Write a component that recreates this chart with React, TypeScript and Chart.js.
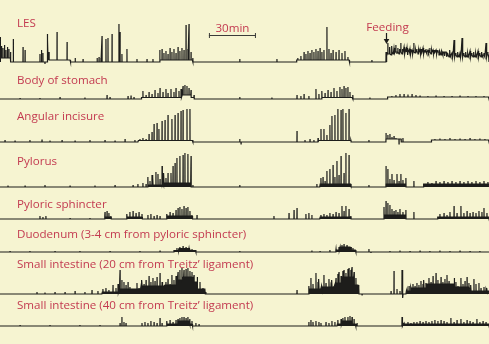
import { useEffect, useRef } from "react";
import { Chart, registerables } from "chart.js";

Chart.register(...registerables);

// ---- data (time in minutes, amplitude in arbitrary units) ----
const TIME_MAX = 312;
const scaleBarMinutes = [133.3, 163.3];
const feedingMinute = 246.3;

const channelNames = [
  "LES",
  "Body of stomach",
  "Angular incisure",
  "Pylorus",
  "Pyloric sphincter",
  "Duodenum (3-4 cm from pyloric sphincter)",
  "Small intestine (20 cm from Treitz\u2019 ligament)",
  "Small intestine (40 cm from Treitz\u2019 ligament)",
];

// spikes: [minute, amplitude]
const lesSpikes = [
  [0.3, 25], [1.0, 16], [1.9, 14], [2.9, 17], [3.8, 12], [4.8, 15], [5.7, 13], [6.7, 10], [8.5, 23],
  [14.7, 15], [16, 12], [25.5, 8], [26.5, 12], [27.4, 9], [28.7, -2], [30, 28], [30.6, 22], [31.3, 10],
  [36.4, 30], [42.8, 20], [48, 4], [53, 3], [62, 4], [63.2, 5], [64.4, 4], [65.1, 26], [67.6, 23],
  [68.9, 24], [71.5, 28], [75.9, 38], [76.6, 30], [77.8, 8], [81, 13], [87.4, 3], [93.8, 3], [97.6, 3],
  [102, 12], [103.4, 13], [104.6, 9], [105.9, 11], [107.2, 8], [108.5, 14], [109.7, 10], [111, 13],
  [112.3, 9], [113.6, 15], [114.8, 11], [116.1, 14], [117.4, 12], [118.7, 37], [119.9, 13], [120.6, 38],
  [121.9, 10], [123.1, 4], [153, 3], [176.7, 3], [190, 4], [192, 6], [194, 10], [195.2, 8], [196.5, 11],
  [197.8, 9], [199, 12], [200.3, 10], [201.6, 13], [202.9, 11], [204.2, 14], [205.4, 10], [206.7, 12],
  [208.6, 35], [209.9, 13], [211.2, 9], [212.5, 12], [214.4, 10], [216.3, 12], [218.2, 9], [220.1, 11],
  [222, 5], [237.3, 2],
  [246.3, 10], [246.9, 6], [247.5, 19], [248.2, 8], [248.8, 15], [249.5, 7], [250.1, 16], [250.8, 8],
  [251.4, 14], [252, 9], [252.6, 17], [253.3, 8], [253.9, 14], [254.6, 8], [255.2, 13], [255.8, 19],
  [256.5, 8], [257.1, 13], [257.8, 15], [258.4, 8], [259.1, 13], [259.7, 14], [260.3, 7], [261, 12],
  [261.6, 13], [262.2, 8], [262.9, 12], [263.5, 8], [264.1, 19], [264.8, 9], [265.4, 12], [266, 13],
  [266.7, 8], [267.3, 12], [268, 13], [268.6, 8], [269.2, 13], [269.9, 14], [270.5, 8], [271.1, 12],
  [271.8, 13], [272.4, 8], [273.1, 12], [273.7, 9], [274.3, 14], [275, 8], [275.6, 12], [276.3, 12],
  [276.9, 8], [277.5, 12], [278.2, 12], [278.8, 8], [279.4, 12], [280.1, 7], [280.7, 11], [281.4, 7],
  [282, 11], [282.6, 7], [283.3, 10], [283.9, 6], [284.5, 10], [285.2, 5], [285.8, 9], [286.5, 5],
  [287.1, 12], [287.7, 5], [288.4, 9], [289, 5], [289.7, 22], [290.3, 5], [290.9, 9], [291.6, 5],
  [292.2, 10], [292.9, 5], [293.5, 9], [294.1, 5], [294.8, 24], [295.4, 5], [296, 9], [296.7, 5],
  [297.3, 10], [298, 5], [298.6, 9], [299.2, 5], [299.9, 11], [300.5, 5], [301.1, 9], [301.8, 5],
  [302.4, 10], [303.1, 5], [303.7, 9], [304.3, 5], [305, 11], [305.6, 5], [306.2, 9], [306.9, 5],
  [307.5, 10], [308.1, 5], [308.8, 9], [309.4, 5], [310.1, 19], [310.7, 5], [311.3, 10],
];
// tone: [start minute, end minute, level]
const lesTone = [[0, 7, 4], [30, 45, 2], [102, 123, 2], [189, 223, 2], [246.5, 250, 8], [250, 285, 10], [285, 312, 7]];

const bodySpikes = [
  [12.8, 1], [25.5, 1], [38.3, 2], [54.2, 1.5], [68.3, 4], [70.2, 2], [81.7, 3], [83.6, 3.5], [85.5, 2],
  [91.2, 8], [93.2, 4], [95.1, 7], [97, 5], [98.9, 9], [100.8, 6], [102.1, 11], [104, 7], [105.9, 10],
  [107.2, 6], [109.1, 10], [111, 7], [112.3, 11], [114.2, 8], [115.5, 10], [116.8, 13], [118, 14],
  [119.3, 13], [120.6, 11], [121.9, 9], [123.8, 4], [153, 2], [173.5, 1.5], [189.5, 4], [192, 3],
  [194, 5], [197.1, 3], [201.6, 10], [203.5, 5], [205.4, 8], [207.4, 6], [209.3, 9], [211.2, 7],
  [213.1, 11], [215, 8], [216.9, 12], [218.2, 10], [219.5, 13], [220.7, 11], [222, 12], [223.3, 7],
  [225.2, 4], [236, 1.5], [250, 3], [252.6, 4], [255.2, 5], [257.8, 5], [260.3, 4.5], [262.9, 5],
  [265.4, 4], [268, 3.5], [273, 3], [278.2, 3.5], [283.3, 3], [288.4, 3], [293.5, 3.5], [298.6, 3],
  [303.7, 3], [308.8, 3],
];
const bodyTone = [[90, 124, 1.5], [116, 122, 4], [205, 225, 1.5], [247, 312, 2]];

const angularSpikes = [
  [3.2, 2], [9.6, 1.5], [19.1, 2], [26.8, 2.5], [31.9, 1.5], [39.6, 2], [47.9, 1.5], [57.4, 2], [67, 2],
  [73.4, 1.5], [79.8, 3], [86.1, 2], [89.3, 3], [91.2, 4], [93.2, 3], [95.1, 8], [97, 10], [98.3, 18],
  [100.2, 19], [101.4, 13], [103.4, 21], [105.3, 22], [107.2, 27], [109.7, 23], [111.7, 27], [113.6, 29],
  [115.5, 31], [116.8, 32], [119.3, 33], [121.2, 33], [123.1, 2], [153, 3], [153.8, -2], [189.5, 11],
  [194.6, 2], [197.8, 3], [200.3, 2], [202.9, 4], [204.8, 13], [206.7, 13], [208.6, 7], [210.5, 17],
  [211.8, 26], [213.7, 27], [215.6, 33], [217.6, 32], [218.8, 33], [220.7, 29], [222.7, 33], [223.9, 2],
  [235.4, 2], [246.3, 9], [247.5, 7], [248.8, 8], [250.1, 5], [251.4, 6], [252.6, 4], [254.6, -2],
  [255.8, 3], [257.1, 4], [277.5, 3], [280.7, 3.5], [283.9, 3], [287.1, 4], [290.3, 3], [293.5, 3.5],
  [296.7, 3], [299.9, 4], [303, 3], [306.2, 3.5], [309.4, 3],
];
const angularTone = [[88, 123, 1.5], [203, 224, 1.5], [246, 256, 3], [275, 312, 2]];

const pylorusSpikes = [
  [5.1, 1.5], [16, 1.5], [28.7, 2], [44.7, 1.5], [60.6, 1.5], [73.4, 2], [84.9, 2], [88, 3], [91.2, 4],
  [93.2, 3], [94.4, 10], [95.7, 6], [97, 12], [97.6, 10], [99.5, 15], [100.8, 13], [102.1, 8], [103.4, 21],
  [104.6, 14], [105.9, 9], [107.2, 14], [109.1, 14], [110.4, 21], [111.7, 24], [112.9, 29], [114.8, 31],
  [116.8, 32], [118, 34], [119.9, 33], [121.9, 31], [123.1, 2], [153, 2], [202.2, 3], [204.8, 9],
  [206.1, 10], [207.4, 6], [208.6, 16], [210.5, 18], [212.5, 22], [213.7, 10], [215, 26], [216.3, 12],
  [217.6, 31], [219.5, 14], [220.7, 34], [222.7, 32], [223.9, 2], [235.4, 2], [246.3, 21], [247.5, 18],
  [248.8, 8], [250.1, 13], [251.4, 7], [253.3, 13], [254.6, 6], [255.8, 13], [257.1, 7], [259, 9],
  [264.1, 6], [273, 5], [275.6, 4], [278.2, 6], [280.7, 5], [283.3, 6], [285.8, 5], [288.4, 6],
  [290.9, 5], [293.5, 6], [296, 5], [298.6, 6], [301.1, 5], [303.7, 6], [306.2, 5], [308.8, 6], [311.3, 5],
];
const pylorusTone = [[94, 104, 2], [104, 122, 4], [204, 224, 3], [246, 259, 3], [270, 312, 3]];

const pyloricSpikes = [
  [25.5, 3], [27.4, 2], [29.3, 3], [44.7, 1], [57.4, 1], [67, 7], [68.3, 8], [69.5, 6], [70.8, 3],
  [81, 5], [82.9, 7], [84.9, 8], [86.8, 6], [88.7, 7], [90.6, 5], [94.4, 4], [96.3, 5], [98.3, 3],
  [100.2, 4], [102.1, 3], [106.5, 5], [108.5, 7], [110.4, 6], [112.3, 9], [113.6, 11], [114.8, 12],
  [116.1, 10], [117.4, 13], [118.7, 11], [119.9, 12], [121.2, 8], [122.5, 4], [125.7, 4], [174.8, 3],
  [184.4, 6], [187.6, 9], [189.5, 11], [195.2, 5], [197.1, 6], [199, 4], [204.8, 4], [206.7, 5],
  [208.6, 4], [210.5, 6], [212.5, 5], [214.4, 7], [216.3, 6], [218.2, 13], [219.5, 8], [220.7, 13],
  [222.7, 10], [223.9, 3], [245, 12], [246.3, 18], [247.5, 16], [248.8, 14], [250.1, 10], [251.4, 8],
  [252.6, 9], [253.9, 7], [255.2, 10], [257.1, 7], [259, 9], [264.1, 7], [280.7, 5], [283.3, 6],
  [285.2, 4], [287.1, 7], [289.7, 13], [291.6, 6], [294.1, 13], [296, 6], [298, 8], [299.9, 6],
  [301.8, 7], [303.7, 6], [305.6, 8], [307.5, 7], [308.8, 11], [310.7, 6],
];
const pyloricTone = [[66.5, 71, 2], [80.5, 91, 2], [106, 123, 3], [204, 224, 2], [245, 259, 4], [279, 312, 2]];

const duodenumSpikes = [
  [6.4, 1], [19.1, 1], [35.1, 1], [51, 1], [70.2, 1], [89.3, 1], [102.1, 1.5], [111, 2], [112.9, 4],
  [114.8, 5], [116.8, 6], [118.7, 5], [120.6, 4], [122.5, 3], [125, 2], [153, 1], [199, 1.5], [204.2, 1],
  [210.5, 2], [214.4, 3], [216.3, 5], [218.2, 7], [219.5, 8], [221.4, 7], [223.3, 5], [225.2, 4],
  [227.1, 2], [235.4, 3], [236.7, -1], [248.8, 1], [255.2, 1.5], [261.6, 1], [268, 1.5], [274.3, 1],
  [280.7, 1.5], [287.1, 1], [293.5, 1.5], [299.9, 1], [306.2, 1],
];
const duodenumTone = [[111, 114, 1.5], [114, 121, 3.5], [121, 125, 1.5], [214, 217, 2], [217, 224, 5], [224, 227, 2]];

const si20Spikes = [
  [23.6, 2], [28.7, 1.5], [35.1, 2], [41.5, 2], [47.9, 3], [54.2, 2], [58.7, 4], [62.5, 3], [65.7, 5],
  [67.6, 6], [69.5, 4], [72.1, 9], [74, 6], [75.3, 10], [76.6, 24], [77.8, 14], [79.1, 12], [80.4, 9],
  [81.7, 12], [82.9, 7], [84.9, 5], [87.4, 11], [88.7, 6], [90.6, 14], [91.9, 10], [93.2, 14], [95.1, 18],
  [96.3, 12], [97.6, 16], [98.9, 13], [100.2, 17], [102.1, 21], [103.4, 12], [104, 8], [105.9, 12],
  [107.2, 15], [108.5, 10], [109.7, 19], [111, 14], [112.3, 18], [113.6, 22], [114.8, 24], [116.1, 26],
  [117.4, 24], [118.7, 25], [119.9, 26], [121.2, 23], [122.5, 22], [123.8, 19], [125.7, 17], [127.6, 12],
  [129.5, 6], [131.4, 2], [189.5, 4], [197.1, 8], [198.4, 16], [199.7, 10], [201.6, 21], [202.9, 12],
  [203.5, 15], [205.4, 8], [206.7, 19], [208, 11], [209.9, 15], [211.2, 9], [211.8, 14], [213.1, 8],
  [214.4, 16], [215.6, 20], [216.3, 22], [217.6, 18], [218.8, 23], [219.5, 24], [220.7, 21], [222, 25],
  [222.7, 26], [223.9, 24], [224.6, 27], [225.9, 22], [227.1, 16], [228.4, 8], [229, 6], [231, -1],
  [249.5, 3], [251.4, 23], [253.3, 5], [255.2, 3], [256.5, 24], [257.1, -4], [259.7, 5], [261, 8],
  [262.2, 7], [263.5, 10], [264.8, 8], [266, 11], [267.3, 9], [268.6, 13], [269.9, 10], [270.5, 14],
  [271.8, 11], [273.7, 16], [275, 12], [276.3, 18], [278.2, 21], [279.4, 14], [281.4, 17], [282.6, 12],
  [283.9, 15], [285.2, 19], [286.5, 13], [287.7, 10], [289.7, 16], [290.9, 12], [292.2, 8], [294.1, 16],
  [295.4, 10], [296.7, 13], [298, 17], [299.2, 11], [300.5, 9], [302.4, 15], [303.7, 10], [305.6, 11],
  [306.9, 6], [308.8, 7], [310.1, 5], [310.7, 6],
];
const si20Tone = [
  [65, 76, 2], [76, 90, 5], [90, 105, 8], [105, 113, 9], [113, 117, 14], [117, 123, 17], [123, 126, 12],
  [126, 131, 5], [197, 205, 5], [205, 214, 7], [214, 218, 11], [218, 226, 17], [226, 229, 9],
  [259, 262, 3], [262, 272, 6], [272, 290, 10], [290, 300, 7], [300, 312, 3],
];

const si40Spikes = [
  [12.8, 1], [31.9, 1], [51, 1], [63.8, 1], [76.6, 3], [77.8, 9], [79.1, 4], [80.4, 3], [90.6, 3],
  [92.5, 4], [94.4, 3], [96.3, 5], [98.3, 4], [100.2, 3], [102.1, 8], [103.4, 3], [106.5, 5], [108.5, 6],
  [110.4, 4], [112.3, 6], [113.6, 7], [114.8, 8], [116.1, 9], [117.4, 9], [118.7, 8], [119.9, 9],
  [121.2, 7], [122.5, 5], [125, 3], [127, 2], [197.1, 4], [198.4, 6], [199.7, 4], [201.6, 5], [203.5, 4],
  [204.8, 3], [208, 4], [209.9, 3], [211.8, 5], [213.7, 4], [215.6, 6], [217.6, 7], [218.8, 8], [220.1, 9],
  [222, 9], [223.3, 10], [224.6, 9], [225.9, 7], [227.8, 3], [256.5, 9], [257.8, 3], [260.3, 4],
  [262.2, 3], [264.1, 4], [266, 4], [268, 5], [269.9, 4], [271.8, 5], [273.7, 4], [275.6, 5], [277.5, 6],
  [279.4, 5], [281.4, 6], [283.3, 5], [285.2, 4], [287.7, 8], [289.7, 4], [291.6, 6], [294.1, 7],
  [296, 4], [298, 6], [299.9, 5], [301.8, 4], [304.3, 7], [306.2, 4], [308.2, 5], [310.1, 4],
];
const si40Tone = [[106, 123, 2], [113, 121, 5], [215, 227, 2], [218, 225, 5], [257, 312, 2]];

const channelSpikes = [lesSpikes, bodySpikes, angularSpikes, pylorusSpikes, pyloricSpikes, duodenumSpikes, si20Spikes, si40Spikes];
const channelTone = [lesTone, bodyTone, angularTone, pylorusTone, pyloricTone, duodenumTone, si20Tone, si40Tone];

// ---- layout / style ----
const W = 489;
const H = 344;
const BG = "#f6f4d1";
const TRACE = "#1d1d1b";
const LABEL = "#c33a50";
const FONT = '11.6px "Open Sans", sans-serif';
const baselinePx = [62, 99, 142, 187, 219, 252, 294, 326];
const labelBaselinePx = [26.7, 84, 120, 165, 208.3, 238.3, 268.3, 309];
const channelFill = [false, false, false, true, true, true, true, true];
const SPIKE_HALF = 0.06;

function buildTrace(spikes: number[][], tone: number[][]) {
  const baseAt = (t: number) => {
    let l = 0;
    for (const [a, b, v] of tone) if (t >= a && t < b) l = v;
    return l;
  };
  const pts: { x: number; y: number; k: number }[] = [];
  let k = 0;
  const add = (x: number, y: number) => pts.push({ x, y, k: k++ });
  add(0, baseAt(0));
  for (const [a, b, v] of tone) {
    add(a, baseAt(a - 1e-6));
    add(a + 0.3, v);
    add(b - 0.3, v);
    add(b, baseAt(b + 1e-6));
  }
  for (const [t, h] of spikes) {
    add(t - SPIKE_HALF, baseAt(t - SPIKE_HALF));
    add(t, h);
    add(t + SPIKE_HALF, baseAt(t + SPIKE_HALF));
  }
  add(TIME_MAX, baseAt(TIME_MAX - 1e-6));
  pts.sort((p, q) => p.x - q.x || p.k - q.k);
  return pts.map((p) => ({ x: p.x, y: p.y }));
}

const overlayPlugin = {
  id: "overlay",
  beforeDraw(chart: any) {
    const ctx = chart.ctx;
    ctx.save();
    ctx.fillStyle = BG;
    ctx.fillRect(0, 0, chart.width, chart.height);
    ctx.restore();
  },
  afterDatasetsDraw(chart: any) {
    const ctx = chart.ctx;
    const xs = chart.scales.x;
    ctx.save();
    ctx.font = FONT;
    ctx.fillStyle = LABEL;
    ctx.textBaseline = "alphabetic";
    ctx.textAlign = "left";
    channelNames.forEach((n, i) => ctx.fillText(n, 17, labelBaselinePx[i]));

    // 30 min scale bar
    const x0 = xs.getPixelForValue(scaleBarMinutes[0]);
    const x1 = xs.getPixelForValue(scaleBarMinutes[1]);
    ctx.strokeStyle = "#3b3b38";
    ctx.lineWidth = 1;
    ctx.beginPath();
    ctx.moveTo(x0, 35.5);
    ctx.lineTo(x1, 35.5);
    ctx.moveTo(x0 + 0.5, 33);
    ctx.lineTo(x0 + 0.5, 38);
    ctx.moveTo(x1 - 0.5, 33);
    ctx.lineTo(x1 - 0.5, 38);
    ctx.stroke();
    ctx.textAlign = "center";
    ctx.fillText("30min", (x0 + x1) / 2, 31.5);

    // feeding marker
    const xf = Math.round(xs.getPixelForValue(feedingMinute)) + 0.5;
    ctx.fillText("Feeding", xf + 1, 31);
    ctx.strokeStyle = "#1d1d1b";
    ctx.fillStyle = "#1d1d1b";
    ctx.lineWidth = 1.2;
    ctx.beginPath();
    ctx.moveTo(xf, 33);
    ctx.lineTo(xf, 40);
    ctx.stroke();
    ctx.beginPath();
    ctx.moveTo(xf - 2.8, 39);
    ctx.lineTo(xf + 2.8, 39);
    ctx.lineTo(xf, 44);
    ctx.closePath();
    ctx.fill();
    ctx.restore();
  },
};

export default function App() {
  const ref = useRef<HTMLCanvasElement | null>(null);
  useEffect(() => {
    document.body.style.margin = "0";
    const canvas = ref.current;
    if (!canvas) return;
    const scales: any = {
      x: { type: "linear", min: 0, max: TIME_MAX, display: false },
    };
    const datasets: any[] = channelNames.map((name, i) => {
      const id = "y" + i;
      scales[id] = { type: "linear", min: baselinePx[i] - H, max: baselinePx[i], display: false };
      return {
        label: name,
        data: buildTrace(channelSpikes[i], channelTone[i]),
        yAxisID: id,
        borderColor: TRACE,
        backgroundColor: TRACE,
        borderWidth: 1.2,
        pointRadius: 0,
        tension: 0,
        fill: channelFill[i] ? "origin" : false,
      };
    });
    const chart = new Chart(canvas, {
      type: "line",
      data: { datasets },
      options: {
        animation: false,
        responsive: false,
        devicePixelRatio: 1,
        events: [],
        layout: { padding: 0 },
        scales,
        plugins: { legend: { display: false }, tooltip: { enabled: false } },
      },
      plugins: [overlayPlugin],
    });
    return () => chart.destroy();
  }, []);
  return (
    <div style={{ width: W, height: H, background: BG }}>
      <canvas ref={ref} width={W} height={H} style={{ display: "block" }} />
    </div>
  );
}
